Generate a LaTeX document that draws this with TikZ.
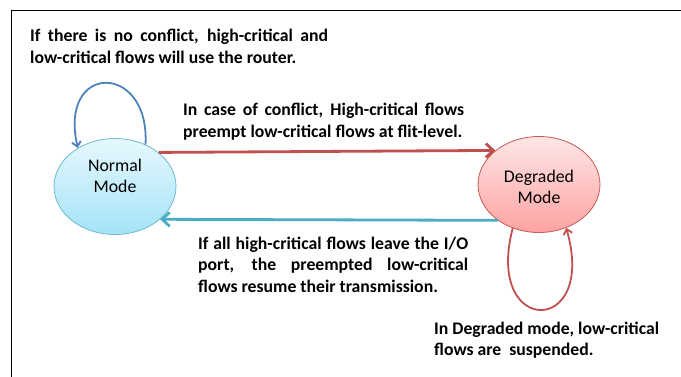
\documentclass[tikz,border=0pt]{standalone}
\usepackage{fontspec}
\setmainfont{Carlito}
\usetikzlibrary{arrows.meta,shapes.geometric}
\definecolor{redline}{HTML}{C0504D}
\definecolor{tealline}{HTML}{4BACC6}
\definecolor{blueline}{HTML}{4F81BD}
\definecolor{normtop}{HTML}{E6F8FD}
\definecolor{normbot}{HTML}{A4E3F8}
\definecolor{normdraw}{HTML}{6DB9D2}
\definecolor{degtop}{HTML}{FDE6E6}
\definecolor{degbot}{HTML}{FFA3A3}
\definecolor{degdraw}{HTML}{C45A57}
\begin{document}
\begin{tikzpicture}[x=1pt,y=-1pt,
  state/.style={ellipse, minimum width=122pt, minimum height=96pt, inner sep=0pt,
    align=center, line width=0.8pt, font=\fontsize{17.8}{21.5}\selectfont},
  normalstate/.style={state, draw=normdraw, top color=normtop, bottom color=normbot},
  degstate/.style={state, draw=degdraw, top color=degtop, bottom color=degbot},
  note/.style={anchor=base west, inner sep=0pt, align=justify,
    font=\bfseries\fontsize{17.7}{21.5}\selectfont,
    execute at begin node={\tolerance=9999\hbadness=10000}},
  bigarrow/.style={line width=2.8pt, -{Straight Barb[length=7.5pt,width=14pt]}},
  loopredarrow/.style={line width=1.8pt, redline, -{Straight Barb[length=5pt,width=9pt]}},
  loopbluearrow/.style={line width=1.8pt, blueline, -{Straight Barb[length=5pt,width=9pt]}}]
\useasboundingbox (0,0) rectangle (681,377);
\draw[line width=0.8pt] (11.5,377) -- (11.5,10.5) -- (681,10.5);

\node[normalstate] (normal) at (115,186.5) {Normal\\Mode\rule[-21pt]{0pt}{0pt}};
\node[degstate] (degraded) at (539,184.5) {\rule{0pt}{17pt}Degraded\\Mode};

\draw[bigarrow, redline] (normal.38.3) -- (degraded.142.7);
\draw[bigarrow, tealline] (degraded.221.6) -- (normal.-36.7);

\draw[loopbluearrow] (normal.54) .. controls (150,62) and (58,62) .. (normal.134);
\draw[loopredarrow] (degraded.-121) .. controls (484,337) and (598,337) .. (degraded.-58);

\node[note, text width=298pt] (t1) at (30,41.7)
  {If there is no conflict, high-critical and\linebreak low-critical flows will use the router.};
\node[note, text width=281pt] (t2) at (183,115.7)
  {In case of conflict, High-critical flows\linebreak preempt low-critical flows at flit-level.};
\node[note, text width=270pt] (t3) at (198,249.3)
  {If all high-critical flows leave the I/O\linebreak port, the preempted low-critical\linebreak flows resume their transmission.};
\node[note, text width=225pt] (t4) at (434,334.3)
  {In Degraded mode, low-critical\linebreak flows are\ \ suspended.};
\end{tikzpicture}
\end{document}
